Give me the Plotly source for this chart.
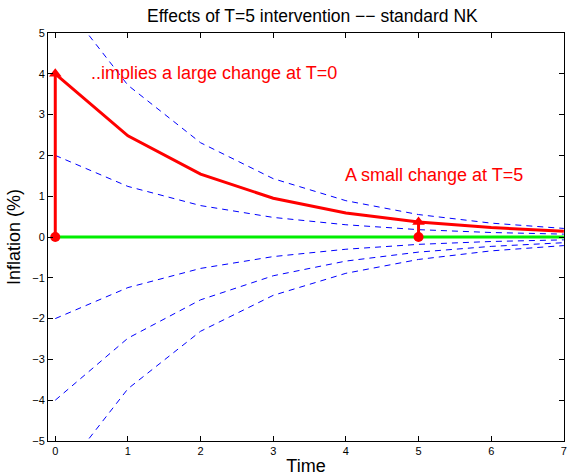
import plotly.graph_objects as go

t = [0, 1, 2, 3, 4, 5, 6, 7]
band_up2 = [2, 1.24, 0.77, 0.48, 0.30, 0.18, 0.11, 0.07]
band_up4 = [4, 2.48, 1.54, 0.95, 0.59, 0.37, 0.23, 0.14]
band_up6 = [6, 3.72, 2.31, 1.43, 0.89, 0.55, 0.34, 0.21]
band_dn2 = [-2, -1.24, -0.77, -0.48, -0.30, -0.18, -0.11, -0.07]
band_dn4 = [-4, -2.48, -1.54, -0.95, -0.59, -0.37, -0.23, -0.14]
band_dn6 = [-6, -3.72, -2.31, -1.43, -0.89, -0.55, -0.34, -0.21]
inflation = [4, 2.48, 1.54, 0.95, 0.59, 0.37, 0.23, 0.14]
baseline = [0, 0, 0, 0, 0, 0, 0, 0]
jump0_x = [0, 0]
jump0_y = [0, 4]
jump5_x = [5, 5]
jump5_y = [0, 0.37]

fig = go.Figure()
for b in [band_up2, band_up4, band_up6, band_dn2, band_dn4, band_dn6]:
    fig.add_trace(go.Scatter(x=t, y=b, mode="lines",
                             line=dict(color="#0000ff", width=1, dash="6px,5px")))
fig.add_trace(go.Scatter(x=t, y=baseline, mode="lines",
                         line=dict(color="#00ee00", width=3)))
fig.add_trace(go.Scatter(x=t, y=inflation, mode="lines",
                         line=dict(color="#ff0000", width=3)))
for xs, ys in [(jump0_x, jump0_y), (jump5_x, jump5_y)]:
    fig.add_trace(go.Scatter(x=xs, y=ys, mode="lines+markers",
                             line=dict(color="#ff0000", width=3),
                             marker=dict(color="#ff0000", size=[10, 11], opacity=1,
                                         symbol=["circle", "triangle-up"],
                                         line=dict(width=0))))

fig.add_annotation(x=0.47, y=4.02, text="..implies a large change at T=0",
                   showarrow=False, xanchor="left", yanchor="middle",
                   font=dict(color="#ff0000", size=18))
fig.add_annotation(x=3.96, y=1.52, text="A small change at T=5",
                   showarrow=False, xanchor="left", yanchor="middle",
                   font=dict(color="#ff0000", size=18))

axis_common = dict(showgrid=False, zeroline=False, showline=True, linecolor="black",
                   linewidth=1, mirror="ticks", ticks="inside", ticklen=5,
                   tickcolor="black", tickfont=dict(size=11, color="black"),
                   ticklabeloverflow="allow")
fig.update_xaxes(range=[-0.1, 7.002], tickvals=t, title=dict(text="Time", font=dict(size=18), standoff=4),
                 **axis_common)
fig.update_yaxes(range=[-5, 5], tickvals=[-5, -4, -3, -2, -1, 0, 1, 2, 3, 4, 5],
                 title=dict(text="Inflation (%)", font=dict(size=18), standoff=6), **axis_common)

fig.update_layout(
    width=568, height=476, showlegend=False,
    paper_bgcolor="white", plot_bgcolor="white",
    font=dict(family="Liberation Sans, Arial, sans-serif", color="black"),
    margin=dict(l=48, r=1, t=33, b=35),
    title=dict(text="Effects of T=5 intervention \u2212\u2212 standard NK", x=0.55, xanchor="center",
               y=0.966, yanchor="middle", font=dict(size=17.5)),
)
fig.write_html("out.html")
